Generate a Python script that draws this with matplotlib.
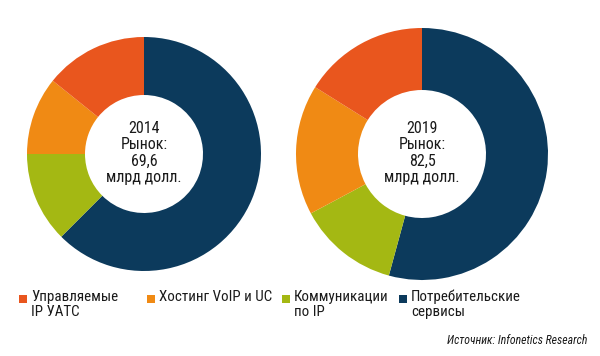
import matplotlib
matplotlib.use("Agg")
import matplotlib.pyplot as plt
from matplotlib.patches import Rectangle

# data (billion USD)
labels = ["Управляемые\nIP УАТС", "Хостинг VoIP и UC", "Коммуникации\nпо IP", "Потребительские\nсервисы"]
colors = ["#E9561E", "#F08A14", "#A4B813", "#0C3A5C"]
years = ["2014", "2019"]
totals = ["69,6", "82,5"]
# order: blue, green, orange, red (clockwise from 12 o'clock)
vals_2014 = [43.5, 8.7, 7.5, 9.9]
vals_2019 = [44.8, 10.7, 13.8, 13.3]

plt.rcParams['font.family'] = ['Roboto Condensed', 'DejaVu Sans']

W, H = 600, 356
fig = plt.figure(figsize=(6, 3.56), dpi=100)
ax = fig.add_axes([0, 0, 1, 1])

pie_colors = [colors[3], colors[2], colors[1], colors[0]]
specs = [(vals_2014, (144, H - 154), 117, 58), (vals_2019, (422, H - 154), 126, 62)]
for i, (vals, c, r, w) in enumerate(specs):
    ax.pie(vals, colors=pie_colors, startangle=90, counterclock=False,
           center=c, radius=r, frame=True,
           wedgeprops=dict(width=w, linewidth=0))
    ax.text(c[0], c[1] + 1, f"{years[i]}\nРынок:\n{totals[i]}\nмлрд долл.",
            ha="center", va="center", fontsize=11.5, color="#1a1a1a",
            linespacing=1.1)

# legend
leg_x = [19, 147, 282, 399]
for x, lab, col in zip(leg_x, labels, colors):
    ax.add_patch(Rectangle((x, H - 303), 8, 8, color=col, lw=0))
    ax.text(x + 12, H - 290, lab, ha="left", va="top", fontsize=10.8,
            color="#1a1a1a", linespacing=1.05)

ax.text(587, H - 341, "Источник: Infonetics Research", ha="right", va="center",
        fontsize=8.5, style="italic", color="#1a1a1a")

ax.set_xlim(0, W)
ax.set_ylim(0, H)
ax.set_aspect("equal")
ax.axis("off")

fig.savefig("out.png", dpi=100)
